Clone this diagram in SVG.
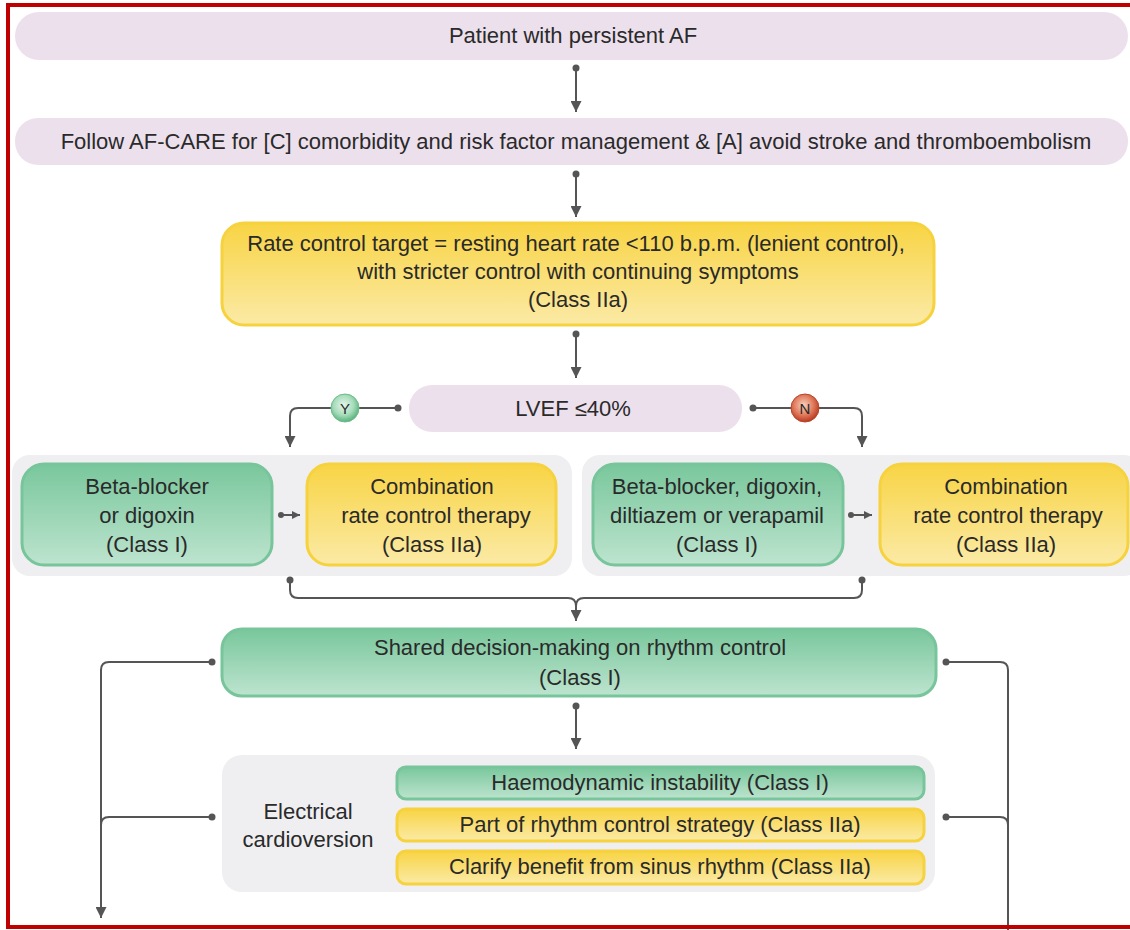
<svg xmlns="http://www.w3.org/2000/svg" width="1130" height="930" viewBox="0 0 1130 930">
<defs>
<linearGradient id="gY" x1="0" y1="0" x2="0" y2="1"><stop offset="0" stop-color="#f8d444"/><stop offset="1" stop-color="#fbeaa6"/></linearGradient>
<linearGradient id="gG" x1="0" y1="0" x2="0" y2="1"><stop offset="0" stop-color="#79c79c"/><stop offset="1" stop-color="#bde4cf"/></linearGradient>
<radialGradient id="rY" cx="0.45" cy="0.4" r="0.6"><stop offset="0" stop-color="#e6f6ec"/><stop offset="0.6" stop-color="#a6dcba"/><stop offset="1" stop-color="#58b27c"/></radialGradient>
<radialGradient id="rN" cx="0.45" cy="0.4" r="0.6"><stop offset="0" stop-color="#f7d2bf"/><stop offset="0.6" stop-color="#e0785a"/><stop offset="1" stop-color="#b8391f"/></radialGradient>
<marker id="ah" viewBox="0 0 10 10" refX="10" refY="5" markerWidth="12" markerHeight="11" markerUnits="userSpaceOnUse" orient="auto"><path d="M0,0 L10,5 L0,10 z" fill="#555"/></marker>
<marker id="ahs" viewBox="0 0 10 10" refX="10" refY="5" markerWidth="8" markerHeight="8" markerUnits="userSpaceOnUse" orient="auto"><path d="M0,0 L10,5 L0,10 z" fill="#555"/></marker>
<style>
text{font-family:"Liberation Sans",Arial,sans-serif;font-size:22px;fill:#2a2a2a;text-anchor:middle;}
.lav{fill:#ede0ed;}
.yel{fill:url(#gY);stroke:#f6d23f;stroke-width:3;}
.grn{fill:url(#gG);stroke:#78c59b;stroke-width:3;}
.pan{fill:#efeff2;}
.c{fill:none;stroke:#555;stroke-width:2;}
.d{fill:#555;}
</style>
</defs>
<rect width="1130" height="930" fill="#fff"/>

<g id="n-patient"><rect class="lav" x="15" y="12" width="1113" height="48" rx="24"/><text x="573" y="43">Patient with persistent AF</text></g>
<g id="n-afcare"><rect class="lav" x="15" y="118" width="1113" height="47" rx="23"/><text x="576" y="149">Follow AF-CARE for [C] comorbidity and risk factor management &amp; [A] avoid stroke and thromboembolism</text></g>
<g id="n-target"><rect class="yel" x="222" y="223" width="712" height="102" rx="22"/><text x="576" y="251">Rate control target = resting heart rate &lt;110 b.p.m. (lenient control),</text><text x="578" y="279">with stricter control with continuing symptoms</text><text x="578" y="307">(Class IIa)</text></g>
<g id="n-lvef"><rect class="lav" x="409" y="385" width="333" height="47" rx="23"/><text x="573" y="416">LVEF ≤40%</text></g>

<g id="panel-left"><rect class="pan" x="12" y="455" width="560" height="121" rx="18"/></g>
<g id="panel-right"><rect class="pan" x="582" y="455" width="560" height="121" rx="18"/></g>
<g id="n-bb"><rect class="grn" x="22" y="464" width="250" height="101" rx="22"/><text x="147" y="494">Beta-blocker</text><text x="147" y="523">or digoxin</text><text x="147" y="552">(Class I)</text></g>
<g id="n-comb1"><rect class="yel" x="307" y="464" width="249" height="101" rx="22"/><text x="432" y="494">Combination</text><text x="436" y="523">rate control therapy</text><text x="432" y="552">(Class IIa)</text></g>
<g id="n-bbd"><rect class="grn" x="593" y="464" width="250" height="101" rx="22"/><text x="717" y="494">Beta-blocker, digoxin,</text><text x="717" y="523">diltiazem or verapamil</text><text x="717" y="552">(Class I)</text></g>
<g id="n-comb2"><rect class="yel" x="880" y="464" width="248" height="101" rx="22"/><text x="1006" y="494">Combination</text><text x="1008" y="523">rate control therapy</text><text x="1006" y="552">(Class IIa)</text></g>

<g id="n-shared"><rect class="grn" x="222" y="629" width="714" height="67" rx="20"/><text x="580" y="655">Shared decision-making on rhythm control</text><text x="580" y="685">(Class I)</text></g>

<g id="n-ecv"><rect class="pan" x="222" y="755" width="713" height="137" rx="20"/><text x="308" y="819">Electrical</text><text x="308" y="847">cardioversion</text>
<rect class="grn" x="397" y="767" width="527" height="32" rx="9"/><text x="660" y="790">Haemodynamic instability (Class I)</text>
<rect class="yel" x="397" y="809" width="527" height="32" rx="9"/><text x="660" y="832">Part of rhythm control strategy (Class IIa)</text>
<rect class="yel" x="397" y="851" width="527" height="33" rx="9"/><text x="660" y="874">Clarify benefit from sinus rhythm (Class IIa)</text></g>

<g id="connectors">
<path class="c" d="M576,68 V112" marker-end="url(#ah)"/><circle class="d" cx="576" cy="68" r="3.5"/>
<path class="c" d="M576,174 V217" marker-end="url(#ah)"/><circle class="d" cx="576" cy="174" r="3.5"/>
<path class="c" d="M576,334 V378" marker-end="url(#ah)"/><circle class="d" cx="576" cy="334" r="3.5"/>
<path class="c" d="M398,408 H298 Q290,408 290,416 V447" marker-end="url(#ah)"/><circle class="d" cx="398" cy="408" r="3.5"/>
<path class="c" d="M753,408 H854 Q862,408 862,416 V447" marker-end="url(#ah)"/><circle class="d" cx="753" cy="408" r="3.5"/>
<path class="c" d="M281,515 H300" marker-end="url(#ahs)"/><circle class="d" cx="281" cy="515" r="3"/>
<path class="c" d="M851,515 H872" marker-end="url(#ahs)"/><circle class="d" cx="851" cy="515" r="3"/>
<path class="c" d="M290,580 V590 Q290,598 298,598 H568 Q576,598 576,606 V621" marker-end="url(#ah)"/><circle class="d" cx="290" cy="580" r="3.5"/>
<path class="c" d="M862,580 V590 Q862,598 854,598 H584 Q576,598 576,606"/><circle class="d" cx="862" cy="580" r="3.5"/>
<path class="c" d="M576,706 V749" marker-end="url(#ah)"/><circle class="d" cx="576" cy="706" r="3.5"/>
<path class="c" d="M212,662 H109 Q101,662 101,670 V918" marker-end="url(#ah)"/><circle class="d" cx="212" cy="662" r="3.5"/>
<path class="c" d="M212,817 H109 Q101,817 101,825"/><circle class="d" cx="212" cy="817" r="3.5"/>
<path class="c" d="M946,662 H1000 Q1008,662 1008,670 V930"/><circle class="d" cx="946" cy="662" r="3.5"/>
<path class="c" d="M946,817 H1000 Q1008,817 1008,825"/><circle class="d" cx="946" cy="817" r="3.5"/>
</g>

<g id="badge-y"><circle cx="345" cy="408" r="14" fill="url(#rY)" stroke="#6dbb8b" stroke-width="1"/><text x="345" y="414" style="font-size:15px">Y</text></g>
<g id="badge-n"><circle cx="805" cy="408" r="14" fill="url(#rN)" stroke="#b8452b" stroke-width="1"/><text x="805" y="414" style="font-size:15px">N</text></g>

<path d="M1132,5 H8 V927 H1132" fill="none" stroke="#c00000" stroke-width="4"/>
</svg>
